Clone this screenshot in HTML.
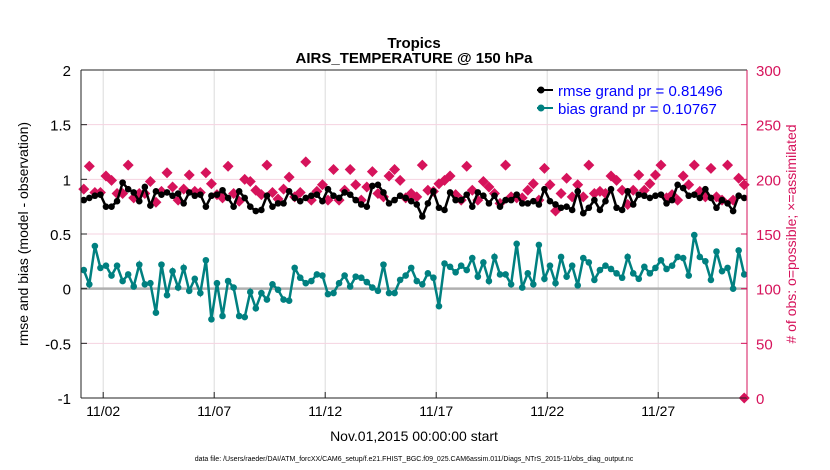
<!DOCTYPE html>
<html><head><meta charset="utf-8"><style>
html,body{margin:0;padding:0;background:#fff;width:830px;height:470px;overflow:hidden}
svg{font-family:"Liberation Sans",Arial,sans-serif}
</style></head><body>
<svg id="chart" width="830" height="470" xmlns="http://www.w3.org/2000/svg">
<rect width="830" height="470" fill="#fff"/>
<g id="grid"></g>
<g id="series"></g>
<g id="axes"></g>
<text x="414" y="48" font-size="15" font-weight="bold" text-anchor="middle">Tropics</text>
<text x="414" y="63" font-size="15" font-weight="bold" text-anchor="middle">AIRS_TEMPERATURE @ 150 hPa</text>
<text transform="translate(28,234) rotate(-90)" font-size="14" text-anchor="middle">rmse and bias (model - observation)</text>
<text transform="translate(796,234) rotate(-90)" font-size="14" fill="#d6135b" text-anchor="middle"># of obs: o=possible; ×=assimilated</text>
<text x="414" y="441" font-size="14" text-anchor="middle">Nov.01,2015 00:00:00 start</text>
<text x="414" y="461" font-size="7" text-anchor="middle">data file: /Users/raeder/DAI/ATM_forcXX/CAM6_setup/f.e21.FHIST_BGC.f09_025.CAM6assim.011/Diags_NTrS_2015-11/obs_diag_output.nc</text>
<g>
<line x1="537" y1="90" x2="553" y2="90" stroke="#000" stroke-width="2"/>
<circle cx="541" cy="90" r="3.5" fill="#000"/>
<text x="558" y="96" font-size="15" fill="#0000ff">rmse grand pr = 0.81496</text>
<line x1="537" y1="108" x2="553" y2="108" stroke="#008080" stroke-width="2"/>
<circle cx="541" cy="108" r="3.5" fill="#008080"/>
<text x="558" y="114" font-size="15" fill="#0000ff">bias grand pr = 0.10767</text>
</g>
</svg>
<script>
const rmse=[0.81,0.83,0.85,0.86,0.75,0.75,0.80,0.97,0.91,0.88,0.80,0.93,0.76,0.89,0.86,0.88,0.85,0.87,0.78,0.88,0.85,0.86,0.75,0.85,0.86,0.90,0.83,0.75,0.89,0.83,0.75,0.71,0.72,0.85,0.75,0.78,0.78,0.89,0.83,0.80,0.83,
0.85,0.86,0.80,0.91,0.85,0.83,0.88,0.86,0.81,0.77,0.75,0.94,0.95,0.88,0.78,0.81,0.85,0.83,0.80,0.77,0.66,0.78,0.89,0.74,0.72,0.88,0.81,0.81,0.86,0.75,0.88,0.85,0.78,0.85,0.75,0.81,0.81,0.86,0.78,0.78,
0.80,0.77,0.91,0.80,0.77,0.74,0.75,0.72,0.89,0.69,0.74,0.81,0.72,0.80,0.91,0.74,0.72,0.89,0.77,0.86,0.85,0.83,0.85,0.86,0.78,0.81,0.95,0.92,0.85,0.86,0.83,0.91,0.83,0.74,0.81,0.78,0.71,0.85,0.83];
const bias=[0.17,0.04,0.39,0.19,0.21,0.12,0.21,0.07,0.13,0.02,0.22,0.04,0.05,-0.22,0.22,-0.06,0.16,0.01,0.19,-0.02,0.09,-0.04,0.26,-0.28,0.05,-0.25,0.07,0.01,-0.25,-0.26,-0.03,-0.18,-0.04,-0.10,0.04,-0.01,-0.10,-0.11,0.19,0.10,0.05,
0.07,0.13,0.12,-0.05,-0.04,0.05,0.12,0.02,0.11,0.10,0.06,0.01,-0.02,0.22,-0.04,-0.04,0.08,0.12,0.19,0.07,0.04,0.14,0.10,-0.16,0.23,0.20,0.15,0.21,0.17,0.28,0.11,0.24,0.07,0.29,0.13,0.13,0.04,0.41,0.01,0.14,
0.04,0.40,0.09,0.21,0.05,0.29,0.11,0.21,0.03,0.28,0.24,0.08,0.17,0.21,0.18,0.14,0.10,0.29,0.14,0.09,0.20,0.14,0.19,0.26,0.18,0.21,0.29,0.28,0.12,0.49,0.29,0.25,0.08,0.34,0.16,0.19,0.00,0.35,0.13];
const nobs=[191,212,188,188,203,199,187,187,213,183,187,187,198,179,189,206,193,181,191,204,189,188,206,196,186,183,212,187,180,200,198,190,186,213,188,182,191,202,184,188,216,
181,189,195,181,209,181,190,209,195,181,193,207,187,184,203,209,199,183,187,184,213,190,189,196,199,203,186,181,212,190,181,198,193,187,178,213,184,183,183,190,
196,181,210,195,171,187,201,184,195,184,213,187,189,187,203,199,190,177,190,204,190,196,204,213,183,186,181,203,195,213,189,184,210,184,181,213,181,201,195];
const nassim=[0];
const xTicks=["11/02","11/07","11/12","11/17","11/22","11/27"];
const xTickDays=[1,6,11,16,21,26];
const yTicks=[-1,-0.5,0,0.5,1,1.5,2];
const rTicks=[0,50,100,150,200,250,300];

const X0=81,X1=747,Y0=70,Y1=398;
const xs=d=>X0+(X1-X0)*d/30;
const ys=v=>Y1-(v+1)/3*(Y1-Y0);
const yr=n=>Y1-n/300*(Y1-Y0);
const NS="http://www.w3.org/2000/svg";
function mk(tag,attrs,parent){const e=document.createElementNS(NS,tag);for(const k in attrs)e.setAttribute(k,attrs[k]);parent.appendChild(e);return e;}
const grid=document.getElementById('grid'),ser=document.getElementById('series'),ax=document.getElementById('axes');
xTickDays.forEach((d,i)=>{
 const g=mk('line',{x1:xs(d),x2:xs(d),y1:Y0,y2:Y1,stroke:'#dcdcdc','stroke-width':1},grid);
 
 
 const t=mk('text',{x:xs(d),y:Y1+18,'font-size':14,'text-anchor':'middle'},ax);t.textContent=xTicks[i];
 
 
 mk('line',{x1:xs(d),x2:xs(d),y1:Y1,y2:Y1-6,stroke:'#222'},ax);
});
rTicks.forEach(n=>{
 if(n>0&&n<300){const g=mk('line',{x1:X0,x2:X1,y1:yr(n),y2:yr(n),stroke:'#f5d3e0','stroke-width':1},grid);
 
 }
 const t=mk('text',{x:X1+9,y:yr(n)+6,'font-size':15,fill:'#d6135b'},ax);t.textContent=n;
 
 
 mk('line',{x1:X1,x2:X1-6,y1:yr(n),y2:yr(n),stroke:'#d6135b'},ax);
});
yTicks.forEach(v=>{
 const t=mk('text',{x:X0-10,y:ys(v)+6,'font-size':15,'text-anchor':'end'},ax);t.textContent=String(v);
 
 
 mk('line',{x1:X0,x2:X0+6,y1:ys(v),y2:ys(v),stroke:'#222'},ax);
});
const zl=mk('line',{x1:X0,x2:X1,y1:ys(0),y2:ys(0),stroke:'#b0b0b0','stroke-width':2.5},grid);


const tx=i=>xs(0.125+i*0.25);
const D=5.5;
nobs.forEach((n,i)=>{
 const x=tx(i),y=yr(n);
 const p=mk('polygon',{points:`${x},${y-D} ${x+D},${y} ${x},${y+D} ${x-D},${y}`,fill:'#d6135b'},ser);
 
 
});
nassim.forEach(n=>{
 const x=tx(nobs.length-1),y=yr(n);
 const p=mk('polygon',{points:`${x},${y-D} ${x+D},${y} ${x},${y+D} ${x-D},${y}`,fill:'#d6135b'},ser);
 
 
});
function line(arr,col,name){
 const pl=mk('polyline',{points:arr.map((v,i)=>tx(i)+','+ys(v)).join(' '),fill:'none',stroke:col,'stroke-width':2.5},ser);
 
 
 arr.forEach((v,i)=>{const c=mk('circle',{cx:tx(i),cy:ys(v),r:3.3,fill:col},ser);
 
 });
}
line(bias,'#008080','bias');
line(rmse,'#000','rmse');
mk('line',{x1:X0,x2:X0,y1:Y0,y2:Y1,stroke:'#222'},ax);
mk('line',{x1:X0,x2:X1,y1:Y1,y2:Y1,stroke:'#222'},ax);
mk('line',{x1:X0,x2:X1,y1:Y0,y2:Y0,stroke:'#222'},ax);
mk('line',{x1:X1,x2:X1,y1:Y0,y2:Y1,stroke:'#d6135b'},ax);
</script>
</body></html>
